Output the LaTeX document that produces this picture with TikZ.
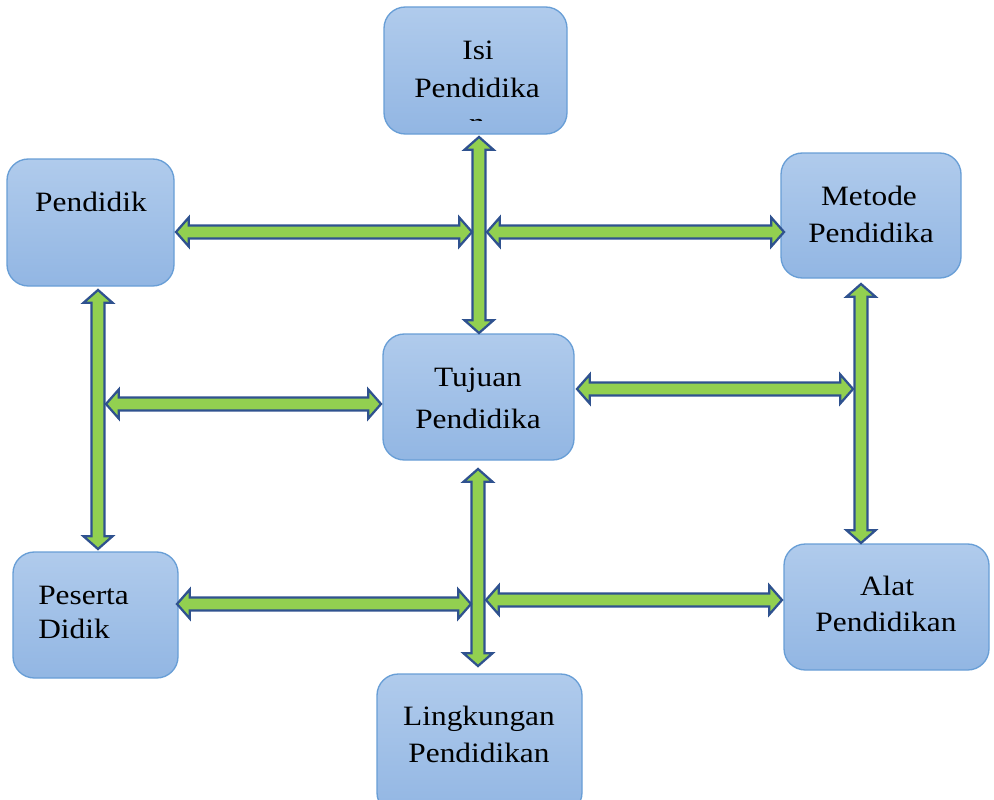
\documentclass[tikz,border=0pt]{standalone}
\usepackage{fontspec}
\setmainfont{Liberation Serif}[FakeStretch=1.12]
\usetikzlibrary{calc,fit}
\definecolor{boxtop}{RGB}{176,203,236}
\definecolor{boxbot}{RGB}{146,182,227}
\definecolor{boxline}{RGB}{104,158,214}
\definecolor{arrfill}{RGB}{146,208,80}
\definecolor{arrline}{RGB}{47,82,143}
\tikzset{
  box/.style={draw=boxline, line width=1pt, rounded corners=16pt, top color=boxtop, bottom color=boxbot, inner sep=0pt},
  txt/.style={anchor=base, inner sep=0pt, font=\fontsize{21}{25}\selectfont, text=black},
  blockarr/.style={fill=arrfill, draw=arrline, line width=1.7pt, line join=miter}
}
\newcommand\blockarrow[2]{%
  \path[blockarr] let \p1=(#1), \p2=(#2),
    \n1={atan2(\y2-\y1,\x2-\x1)}, \n2={veclen(\x2-\x1,\y2-\y1)} in
    [shift={(\p1)}, rotate=\n1]
    (0pt,0pt) -- (9.5pt,10.8pt) -- (9.5pt,4.8pt) -- (\n2-9.5pt,4.8pt) -- (\n2-9.5pt,10.8pt)
    -- (\n2,0pt) -- (\n2-9.5pt,-10.8pt) -- (\n2-9.5pt,-4.8pt) -- (9.5pt,-4.8pt) -- (9.5pt,-10.8pt) -- cycle;}
\begin{document}
\begin{tikzpicture}[x=0.75pt,y=-0.75pt]
\useasboundingbox (0,0) rectangle (994,799);
% boxes
\node[box, fit={(384,7) (567,134)}] (isi) {};
\node[box, fit={(7,159) (174,286)}] (pendidik) {};
\node[box, fit={(781,153) (961,278)}] (metode) {};
\node[box, fit={(383,334) (574,460)}] (tujuan) {};
\node[box, fit={(13,552) (178,678)}] (peserta) {};
\node[box, fit={(784,544) (989,670)}] (alat) {};
\node[box, fit={(377,674) (582,814)}] (lingk) {};
% texts
\node[txt] (isi1) at (478,60) {Isi};
\node[txt] (isi2) at (477,97) {Pendidika};
\begin{scope}
  \clip (384,100) rectangle (567,120);
  \node[txt] (isi3) at (477,132) {n};
\end{scope}
\node[txt] (pd1) at (91,211) {Pendidik};
\node[txt] (me1) at (869,205) {Metode};
\node[txt] (me2) at (871,242) {Pendidika};
\node[txt] (tu1) at (478,386) {Tujuan};
\node[txt] (tu2) at (478,428) {Pendidika};
\node[txt, anchor=base west] (pe1) at (38,604) {Peserta};
\node[txt, anchor=base west] (pe2) at (38,638) {Didik};
\node[txt] (al1) at (887,595) {Alat};
\node[txt] (al2) at (886,631) {Pendidikan};
\node[txt] (li1) at (479,725) {Lingkungan};
\node[txt] (li2) at (479,762) {Pendidikan};
% arrow end points
\coordinate (v1a) at (479,137); \coordinate (v1b) at (479,333);
\coordinate (h1a) at (176,232); \coordinate (h1b) at (472,232);
\coordinate (h2a) at (487,232); \coordinate (h2b) at (784,232);
\coordinate (h3a) at (106,404); \coordinate (h3b) at (381,404);
\coordinate (h4a) at (577,389); \coordinate (h4b) at (853,389);
\coordinate (v2a) at (98,290);  \coordinate (v2b) at (98,549);
\coordinate (v3a) at (861,284); \coordinate (v3b) at (861,543);
\coordinate (v4a) at (478,469); \coordinate (v4b) at (478,666);
\coordinate (h5a) at (177,604); \coordinate (h5b) at (471,604);
\coordinate (h6a) at (486,600); \coordinate (h6b) at (782,600);
% arrows
\blockarrow{v1a}{v1b}
\blockarrow{h1a}{h1b}
\blockarrow{h2a}{h2b}
\blockarrow{v2a}{v2b}
\blockarrow{h3a}{h3b}
\blockarrow{h4a}{h4b}
\blockarrow{v3a}{v3b}
\blockarrow{v4a}{v4b}
\blockarrow{h5a}{h5b}
\blockarrow{h6a}{h6b}
\end{tikzpicture}
\end{document}
